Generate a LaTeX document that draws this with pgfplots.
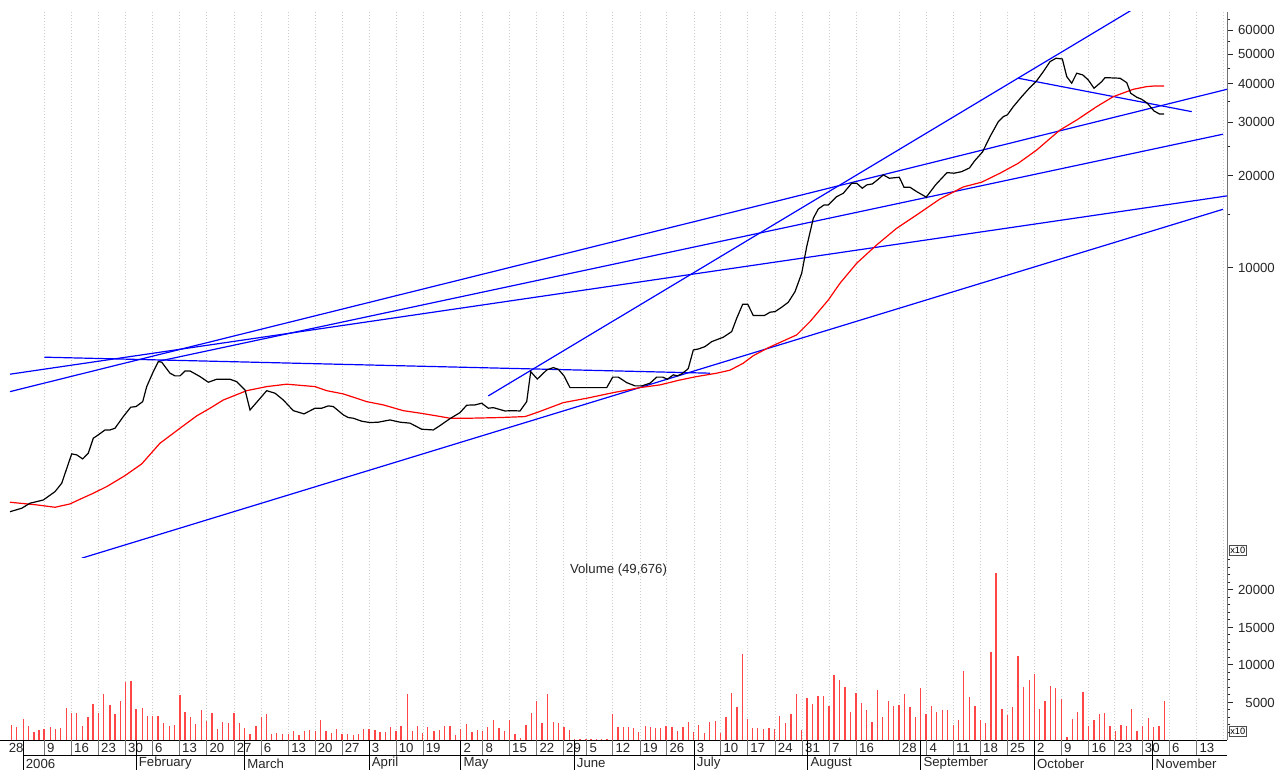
\documentclass[border=0pt]{standalone}
\usepackage{pgfplots}
\pgfplotsset{compat=1.18}
\usepackage{fontspec}
\setmainfont{Liberation Sans}
\newcommand\lf{\fontsize{6.6}{7.5}\selectfont}
\definecolor{volred}{RGB}{255,70,70}
\definecolor{gridc}{RGB}{205,205,205}
\begin{document}
\begin{tikzpicture}
\useasboundingbox (0,0) rectangle (638.5pt,385pt);
% ---------- grid and date rows ----------
\begin{scope}[x=0.5pt,y=-0.5pt,shift={(0pt,385pt)}]
\foreach \g in {44.3,71.3,98.3,125.3,152.3,179.3,206.7,234,261,288.5,315,342,369,396,423,460.7,482.7,509.3,536.7,563.3,586.7,612.7,640,666.7,694,720.7,747.5,775,802.3,829.3,856.3,899,926.7,953.3,980.3,1007.3,1034.3,1061.3,1088.7,1114.7,1142,1169.3,1196.7,1223}
  \draw[gridc, line width=0.5pt, dash pattern=on 0.5pt off 1pt] (\g,12) -- (\g,740);
\draw[black, line width=0.5pt] (0,740) -- (1227,740);
\draw[black, line width=0.5pt] (23,755) -- (1227,755);
\foreach \g/\d in {44.3/9,71.3/16,98.3/23,125.3/30,152.3/6,179.3/13,206.7/20,234/27,261/6,288.5/13,315/20,342/27,369/3,396/10,423/19,460.7/2,482.7/8,509.3/15,536.7/22,563.3/29,586.7/5,612.7/12,640/19,666.7/26,694/3,720.7/10,747.5/17,775/24,802.3/31,829.3/7,856.3/16,899/28,926.7/4,953.3/11,980.3/18,1007.3/25,1034.3/2,1061.3/9,1088.7/16,1114.7/23,1142/30,1169.3/6,1196.7/13}{
  \draw[black!55, line width=0.5pt] (\g,740) -- (\g,755);
  \node[anchor=west, inner sep=0pt, font=\lf, text=black!85] at (\g+2.5,748) {\d};
}
\node[anchor=west, inner sep=0pt, font=\lf, text=black!85] at (8.5,748) {28};
\foreach \g/\m in {23/2006,136/February,244.5/March,369/April,460.7/May,574/June,694/July,807.7/August,920.6/September,1034.3/October,1152.8/November}{
  \draw[black, line width=0.5pt] (\g,740) -- (\g,770);
  \node[anchor=west, inner sep=0pt, font=\lf, text=black!85] at (\g+2.5,763.5) {\m};
}
\node[font=\lf, text=black!85, inner sep=0pt] at (618.5,570) {Volume (49,676)};
\node[draw=black!70, line width=0.4pt, font=\fontsize{4.6}{5}\selectfont, inner sep=0.7pt, anchor=west] at (1228.5,550.5) {x10};
\node[draw=black!70, line width=0.4pt, font=\fontsize{4.6}{5}\selectfont, inner sep=0.7pt, anchor=west] at (1228.5,731.5) {x10};
\end{scope}
% ---------- price panel ----------
\begin{axis}[
  at={(0pt,106pt)}, anchor=south west, scale only axis,
  width=613.5pt, height=273pt,
  xmin=0, xmax=1227, ymode=log, ymin=1124.6, ymax=68827,
  axis x line=none, axis y line*=right,
  y axis line style={black!55, -},
  ytick={10000,20000,30000,40000,50000,60000},
  yticklabels={10000,20000,30000,40000,50000,60000},
  minor ytick={15000,25000,35000,45000,55000,65000},
  tick align=outside, major tick length=3pt, minor tick length=1.7pt,
  every tick/.style={black!85, line width=0.5pt},
  yticklabel style={font=\lf, text=black!85, anchor=west, inner sep=0pt, text width=18.5pt, align=right, xshift=2.2pt},
  clip=true,
]
\addplot[blue, line width=0.6pt] coordinates {(488.3,3815) (1140,72540)};
\addplot[blue, line width=0.6pt] coordinates {(10,3939) (1227,38442)};
\addplot[blue, line width=0.6pt] coordinates {(10,4492) (1227,17213)};
\addplot[blue, line width=0.6pt] coordinates {(158.3,4950) (1223,27401)};
\addplot[blue, line width=0.6pt] coordinates {(44.3,5106) (710,4526)};
\addplot[blue, line width=0.6pt] coordinates {(81.7,1123) (1223,15564)};
\addplot[blue, line width=0.6pt] coordinates {(1018.3,41774) (1191.7,32478)};
% moving average
\addplot[red, line width=0.6pt] table {
x y
10 1712
20 1699
36.7 1678
55 1648
70 1690
80 1751
93.3 1832
106.7 1926
125 2092
141.7 2285
160 2671
180 2990
196.7 3281
210 3476
223.3 3699
246.7 3968
266.7 4091
286.7 4166
303.3 4122
315 4091
326.7 3968
343.3 3872
366.7 3653
383.3 3564
403.3 3413
420 3350
436.7 3281
450 3224
470 3224
500 3240
525 3264
536.7 3363
563.3 3626
586.7 3748
613.3 3910
640 4060
660 4144
680 4300
696.7 4413
716.7 4526
730 4630
743.3 4880
753.3 5164
768.3 5484
796.7 6040
810 6675
828.3 7857
840 8916
856.7 10367
876.7 11900
896.7 13491
916.7 14918
940 16822
963.3 18419
981.7 19095
1000 20423
1018.3 22021
1036.7 24327
1048.3 26231
1060 28284
1076.7 30497
1096.7 33733
1113.3 36374
1133.3 38442
1146.7 39220
1155 39430
1164 39430
};
% price
\addplot[black, line width=0.6pt] table {
x y
10 1594
21.7 1636
30 1699
43.3 1741
55 1854
61.7 1975
71.7 2464
76.7 2446
82.7 2372
88.3 2477
93.3 2773
98.3 2844
105 2951
110 2951
115 2990
123.3 3264
130.7 3503
136 3520
142.7 3653
146.7 4091
153.3 4580
158.3 4938
161.7 4917
170 4526
175 4435
180 4435
185 4603
190 4603
200 4412
208.3 4228
216.7 4324
230 4324
236.7 4247
245 3988
250 3430
266.7 3968
275 3893
283.3 3699
293.3 3413
304 3331
315 3476
321.7 3476
328.3 3538
333.3 3520
343.3 3306
348.3 3240
353.3 3224
361.7 3152
370 3120
378.3 3129
390 3182
400 3129
410 3106
421.7 2967
433.3 2951
440 3050
450 3214
460 3363
466.7 3556
475 3564
481.7 3610
488.3 3476
493.3 3492
505 3405
511.7 3413
520 3405
526.7 3653
530.7 4580
537.3 4331
546.7 4637
553.3 4720
558.3 4662
564 4435
570 4060
586.7 4060
606.7 4060
612.7 4394
618.3 4394
626.7 4216
635 4113
641.7 4113
650 4197
656.7 4394
662.7 4394
667.3 4324
673.3 4469
677.3 4435
681.7 4502
686.7 4637
688.3 4694
693.3 5391
698.3 5431
705 5530
711.7 5741
723.3 5936
731.7 6191
736.7 6848
742.7 7612
747.7 7612
753.3 6986
764.3 6986
770 7166
775 7198
781.7 7442
788.3 7726
795 8367
801.7 9614
806.7 11748
813.3 14547
818.3 15600
824 16080
828.3 16080
836.7 17122
843.3 17560
851.7 18940
856.7 18940
862.3 18236
866.7 18700
872.3 18842
877.3 19405
883.3 20165
889.3 19663
899.3 19815
904 18369
910 18369
916.7 17775
926.3 17057
935.5 18700
947 20514
954 20423
961.7 20666
969.5 21251
974.5 22397
982.5 23974
990 26908
998.3 30121
1003.3 31285
1007.3 31690
1013.3 33733
1021.7 36374
1028.3 38442
1036.7 41016
1043.3 43903
1050 47340
1056 48569
1062.3 48306
1066.7 42290
1071.7 40238
1076.7 43387
1082.7 42838
1088.3 41225
1094 38742
1101.7 40716
1105 41967
1120 41773
1126.7 40417
1130.7 37317
1136.7 36207
1141.7 35652
1147.3 34609
1154 32645
1159.3 31929
1164 31929
};
\end{axis}
% ---------- volume panel ----------
\begin{axis}[
  at={(0pt,15pt)}, anchor=south west, scale only axis,
  width=613.5pt, height=91pt,
  xmin=0, xmax=1227, ymin=0, ymax=24267,
  axis x line=none, axis y line*=right,
  y axis line style={black!55, -},
  scaled y ticks=false,
  ytick={5000,10000,15000,20000},
  yticklabels={5000,10000,15000,20000},
  minor ytick={1000,2000,...,24000},
  tick align=outside, major tick length=3pt, minor tick length=1.7pt,
  every tick/.style={black!85, line width=0.5pt},
  yticklabel style={font=\lf, text=black!85, anchor=west, inner sep=0pt, text width=18.5pt, align=right, xshift=2.2pt},
  clip=true,
]
\addplot[ycomb, draw=volred, line width=0.75pt, line cap=butt] table {
x y
11.7 2000
16.7 1689
23.3 2800
28.3 1867
34 1022
39 1333
44 1422
50.7 1689
55.7 1422
60.7 1556
66.3 4222
71.3 3644
76.7 3644
82.7 1867
88 3067
93 4756
98.7 3644
103.7 6133
110 4622
115 3511
120.3 5156
125.7 7733
131 7822
136 4089
142.3 4311
147.3 3200
152.7 3200
158 3200
163.3 2267
169.3 1867
174.7 1956
180 6000
185 3778
190.3 3067
195.7 2133
201.7 3956
206.7 2533
212 3644
217.3 1422
222.7 2400
228.7 2267
234 3644
239.3 2267
244.7 1556
250 756
256 1867
261.3 3067
266.7 3511
271.7 844
276.7 889
282.3 844
288.3 844
293.3 1200
299 622
304.3 1200
309.7 1289
315.3 1200
320.7 2667
326 1200
331.3 978
336.7 1422
342 844
347.7 844
353.3 711
358.3 844
363.7 1422
369 1422
375 1333
380 1022
385.3 1022
390.7 1689
396 1200
401 1867
407.3 6133
412.7 1200
417.7 1867
422.7 889
427.7 1733
434 1200
439.3 1333
444.7 1867
450 1867
455.3 622
460.7 1422
466.7 2133
472 1022
477.3 1333
482.7 1200
487.7 1733
493.7 2667
499 1556
504.3 1200
509.3 2667
515 756
520.3 267
526 2000
531.3 3644
536.7 5200
542 2267
547.3 6178
553.3 2400
558.7 2267
564 1733
569.3 1333
574.7 178
580 178
586 178
591 178
596.7 178
601.7 178
607 178
612.7 3422
618 1733
623.3 1733
628.7 1733
633.7 1556
638.7 1022
645.3 1867
650.3 1733
655.7 1556
660.7 1556
666 1867
672 1733
677.7 1200
683 1733
688.3 2400
693.7 1022
698.7 2000
704.3 889
709.7 2400
715.3 2533
720.7 889
726 3111
731.7 6311
737 4356
742.3 11467
747.3 2844
752.7 1556
757.7 1556
763.7 1422
769 1556
774.3 1422
779.7 3200
785.3 2267
791 3511
796.3 6178
801.7 1333
807 5644
812.7 4844
818 5867
823.3 5867
829 4533
834 8622
839.3 7956
845 7111
850.7 3778
856 6267
861.3 4889
866.7 4044
872 2400
877.3 6711
882.7 3067
888.3 5156
893.7 4533
899 4622
904.3 6133
910 4356
915.3 3067
920.7 6978
926 3511
931.3 4533
936.7 3733
942.3 4044
947.7 4044
953.3 2000
958.3 2667
963.7 9200
969.7 5733
975 4533
980.3 2667
985.7 2222
991 11689
996 22267
1002 4178
1007.3 3378
1012.7 4356
1018 11156
1023.3 7111
1029.3 7956
1034.7 8800
1039.7 4178
1045 5156
1050.3 7244
1055.7 6978
1061.7 5467
1067 444
1072.3 2800
1077.7 3733
1083 6400
1088.7 1867
1094 2667
1099.3 3511
1104.7 3644
1110 1867
1115.3 1156
1121 2000
1126.3 1867
1131.7 4178
1137 1156
1142.3 1867
1148.3 2933
1153.7 1689
1159 1867
1164.3 5156
};
\end{axis}
\end{tikzpicture}
\end{document}
